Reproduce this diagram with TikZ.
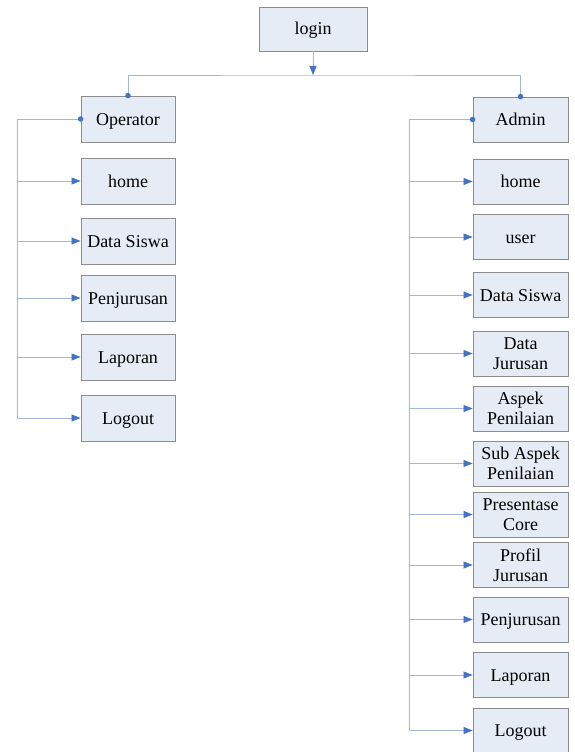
\documentclass[tikz,border=0pt]{standalone}
\usepackage{fontspec}
\setmainfont{Liberation Serif}
\usetikzlibrary{arrows.meta}
\definecolor{boxfill}{HTML}{E6ECF6}
\definecolor{boxline}{HTML}{8C8C8C}
\definecolor{conn}{HTML}{A4B7DA}
\definecolor{tipblue}{HTML}{4472C4}
\newcommand{\twol}[2]{\raisebox{-6.5pt}[0pt][0pt]{\begin{tabular}{@{}c@{}}#1\\#2\end{tabular}}}
\tikzset{
  box/.style={draw=boxline, fill=boxfill, line width=0.9pt, rectangle, align=center,
    inner sep=0pt, font=\fontsize{18}{20}\selectfont, text=black},
  one/.style={text height=14pt, text depth=2pt},
  lbox/.style={box, minimum width=94pt, minimum height=46pt},
  rbox/.style={box, minimum width=95pt, minimum height=45pt},
  conline/.style={draw=conn, line width=0.8pt},
  arr/.style={conline, -{Triangle[length=9pt,width=7pt,fill=tipblue,color=tipblue]}},
  dot/.style={fill=tipblue, draw=none, circle, minimum size=5.5pt, inner sep=0pt}
}
\begin{document}
\begin{tikzpicture}[x=1pt,y=-1pt]
\useasboundingbox (0,0) rectangle (575,752);
% top
\node[box, one, minimum width=108pt, minimum height=44pt] (login) at (313,29) {login};
\coordinate (j) at (313,75);
\node[lbox, one] (op) at (128,119) {Operator};
\node[rbox, one] (adm) at (520.5,119.5) {Admin};
\draw[conline] (op.north) |- (j) -| (adm.north);
\draw[arr] (login.south) -- (j);
\node[dot] at (op.north) {};
\node[dot] at (adm.north) {};
% left column
\node[lbox, one] (lhome) at (128,181) {home};
\node[lbox, one] (lsiswa) at (128,241) {Data Siswa};
\node[lbox, one] (lpenj) at (128,298) {Penjurusan};
\node[lbox, one] (llap) at (128,357) {Laporan};
\node[lbox, one] (llog) at (128,418) {Logout};
\coordinate (lx) at (17,0);
\draw[conline] (op.west) -- (op.west -| lx) -- (llog.west -| lx);
\node[dot] at (op.west) {};
\foreach \n in {lhome,lsiswa,lpenj,llap,llog}
  \draw[arr] (\n.west -| lx) -- (\n.west);
% right column
\node[rbox, one] (rhome) at (520.5,181.5) {home};
\node[rbox, one] (ruser) at (520.5,237) {user};
\node[rbox, one] (rsiswa) at (520.5,295) {Data Siswa};
\node[rbox] (rjur) at (520.5,353.5) {\twol{Data}{Jurusan}};
\node[rbox] (raspek) at (520.5,408.5) {\twol{Aspek}{Penilaian}};
\node[rbox] (rsub) at (520.5,463.5) {\twol{Sub Aspek}{Penilaian}};
\node[rbox] (rpres) at (520.5,514.5) {\twol{Presentase}{Core}};
\node[rbox] (rprof) at (520.5,565) {\twol{Profil}{Jurusan}};
\node[rbox, one] (rpenj) at (520.5,619.5) {Penjurusan};
\node[rbox, one] (rlap) at (520.5,675) {Laporan};
\node[rbox, one] (rlog) at (520.5,730.5) {Logout};
\coordinate (rx) at (409,0);
\draw[conline] (adm.west) -- (adm.west -| rx) -- (rlog.west -| rx);
\node[dot] at (adm.west) {};
\foreach \n in {rhome,ruser,rsiswa,rjur,raspek,rsub,rpres,rprof,rpenj,rlap,rlog}
  \draw[arr] (\n.west -| rx) -- (\n.west);
\end{tikzpicture}
\end{document}
